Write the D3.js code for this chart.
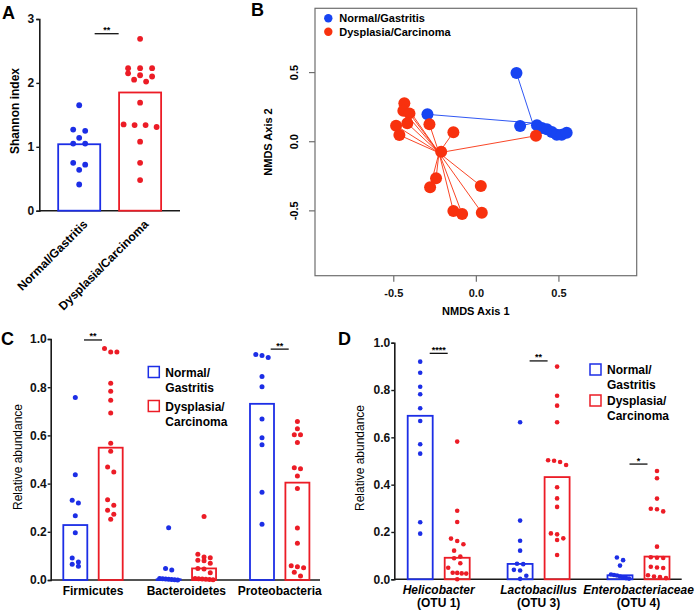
<!DOCTYPE html>
<html><head><meta charset="utf-8">
<script src="https://cdn.jsdelivr.net/npm/d3@7"></script>
<style>
body{margin:0;background:#fff;}
svg{display:block;font-family:"Liberation Sans",Arial,Helvetica,sans-serif;}
</style></head><body>
<svg id="chart" width="696" height="613"></svg>
<script>
// ---------------- DATA ----------------
const groups = ["Normal/Gastritis", "Dysplasia/Carcinoma"];
const legendLines = [["Normal/", "Gastritis"], ["Dysplasia/", "Carcinoma"]];

// Panel A: Shannon index
const shannonNormal = [1.65, 1.27, 1.25, 1.14, 1.05, 1.05, 0.75, 0.72, 0.64, 0.41];
const shannonDysplasia = [2.69, 2.23, 2.23, 2.23, 2.15, 2.12, 2.10, 2.05, 2.02, 1.69, 1.35, 1.34, 1.34, 1.31, 1.08, 0.75, 0.48];
const shannonMedian = [1.04, 1.85];
const shannonTicks = [0, 1, 2, 3];
const shannonSig = ["**", 2.77];

// Panel B: NMDS
const nmdsNormal = [[0.246, 0.497], [-0.293, 0.198], [0.268, 0.113], [0.37, 0.12], [0.40, 0.10],
  [0.43, 0.09], [0.46, 0.07], [0.49, 0.05], [0.52, 0.05], [0.55, 0.065]];
const nmdsDysplasia = [[-0.433, 0.278], [-0.439, 0.224], [-0.402, 0.205], [-0.483, 0.116], [-0.415, 0.133],
  [-0.463, 0.048], [-0.281, 0.126], [-0.136, 0.068], [-0.21, -0.072], [0.364, 0.043], [-0.241, -0.265],
  [-0.277, -0.33], [0.03, -0.32], [-0.136, -0.501], [-0.083, -0.523], [0.036, -0.513]];
const nmdsTicks = [-0.5, 0, 0.5];

// Panel C: phyla
const phyla = ["Firmicutes", "Bacteroidetes", "Proteobacteria"];
const phylaNormal = [
  [0.757, 0.437, 0.331, 0.319, 0.267, 0.196, 0.091, 0.075, 0.065, 0.057],
  [0.217, 0.048, 0.041, 0.006, 0.005, 0.004, 0.003, 0.002, 0.001, 0.0],
  [0.936, 0.932, 0.923, 0.844, 0.802, 0.668, 0.59, 0.561, 0.364, 0.231]];
const phylaDysplasia = [
  [0.961, 0.946, 0.946, 0.816, 0.783, 0.746, 0.693, 0.567, 0.534, 0.469, 0.448, 0.333, 0.31, 0.289, 0.273, 0.252],
  [0.263, 0.107, 0.095, 0.092, 0.082, 0.08, 0.07, 0.048, 0.046, 0.03, 0.006, 0.005, 0.004, 0.003, 0.002, 0.001],
  [0.658, 0.628, 0.603, 0.603, 0.571, 0.466, 0.462, 0.432, 0.38, 0.216, 0.152, 0.059, 0.055, 0.051, 0.032, 0.017]];
const phylaMedianNormal = [0.228, 0.003, 0.731];
const phylaMedianDysplasia = [0.549, 0.048, 0.404];
const phylaSig = [["**", 0.996], null, ["**", 0.958]];

// Panel D: OTUs
const otuGenus = ["Helicobacter", "Lactobacillus", "Enterobacteriaceae"];
const otuIds = ["(OTU 1)", "(OTU 3)", "(OTU 4)"];
const otuNormal = [
  [0.92, 0.873, 0.814, 0.782, 0.723, 0.669, 0.571, 0.531, 0.241, 0.193],
  [0.664, 0.248, 0.163, 0.121, 0.066, 0.064, 0.04, 0.037, 0.015, 0.002],
  [0.092, 0.081, 0.058, 0.02, 0.018, 0.016, 0.012, 0.008, 0.005, 0.003]];
const otuDysplasia = [
  [0.582, 0.29, 0.242, 0.172, 0.162, 0.148, 0.121, 0.096, 0.089, 0.068, 0.049, 0.028, 0.027, 0.025, 0.024, 0.0],
  [0.899, 0.776, 0.734, 0.664, 0.503, 0.501, 0.496, 0.483, 0.389, 0.342, 0.306, 0.194, 0.19, 0.173, 0.166, 0.103],
  [0.458, 0.427, 0.341, 0.298, 0.296, 0.287, 0.138, 0.093, 0.091, 0.09, 0.053, 0.05, 0.048, 0.017, 0.012, 0.009, 0.005]];
const otuMedianNormal = [0.691, 0.065, 0.017];
const otuMedianDysplasia = [0.091, 0.432, 0.096];
const otuSig = [["****", 0.955], ["**", 0.923], ["*", 0.487]];

const abundanceTicks = [0, 0.2, 0.4, 0.6, 0.8, 1.0];

// ---------------- STYLE ----------------
const BLUE = "#1c2ee6", RED = "#ec1c26";
const BLUE_B = "#1844f2", RED_B = "#f8310e";
const AXIS = "#1a1a1a";

const svg = d3.select("#chart");
svg.append("rect").attr("width", 696).attr("height", 613).attr("fill", "#fff");

function swarm(values, y, spacing, maxWidth, thresh) {
  const pts = values.map(v => ({ v, y: y(v) })).sort((a, b) => a.y - b.y);
  const rows = [];
  pts.forEach(p => {
    const last = rows[rows.length - 1];
    if (last && p.y - last[0].y < thresh) last.push(p); else rows.push([p]);
  });
  rows.forEach(r => {
    const n = r.length;
    const s = n > 1 ? Math.min(spacing, maxWidth / (n - 1)) : 0;
    r.forEach((p, i) => p.dx = (i - (n - 1) / 2) * s);
  });
  return pts;
}

function panelLetter(t, x, y) {
  svg.append("text").attr("x", x).attr("y", y).text(t)
    .attr("font-size", 18).attr("font-weight", "bold").attr("fill", "#000");
}

function styleAxis(g, fs) {
  g.select(".domain").attr("stroke", AXIS).attr("stroke-width", 1.6);
  g.selectAll(".tick line").attr("stroke", AXIS).attr("stroke-width", 1.4);
  g.selectAll(".tick text").attr("font-size", fs).attr("font-weight", "bold").attr("fill", "#111")
    .attr("font-family", "'Liberation Sans',Arial,sans-serif");
}

function sig(g, label, cx, y, half) {
  g.append("line").attr("x1", cx - half).attr("x2", cx + half).attr("y1", y).attr("y2", y)
    .attr("stroke", "#111").attr("stroke-width", 1.3);
  g.append("text").attr("x", cx).attr("y", y - 0.5).attr("text-anchor", "middle")
    .attr("font-size", 9).attr("font-weight", "bold").text(label);
}

// ---------------- PANEL A ----------------
{
  const g = svg.append("g");
  const y = d3.scaleLinear().domain([0, 3]).range([210.7, 19]);
  const x = d3.scaleBand().domain(groups).range([39.3, 180]).paddingInner(0.31).paddingOuter(0.31);
  const cols = [BLUE, RED];
  const series = [shannonNormal, shannonDysplasia];

  g.append("line").attr("x1", 39.3).attr("x2", 180).attr("y1", 210.7).attr("y2", 210.7)
    .attr("stroke", AXIS).attr("stroke-width", 1.6);
  const ax = g.append("g").attr("transform", "translate(39.3,0)")
    .call(d3.axisLeft(y).tickValues(shannonTicks).tickSize(3).tickPadding(2).tickFormat(d3.format("d")));
  styleAxis(ax, 12);

  groups.forEach((grp, i) => {
    g.append("rect").attr("x", x(grp)).attr("width", x.bandwidth())
      .attr("y", y(shannonMedian[i])).attr("height", y(0) - y(shannonMedian[i]))
      .attr("fill", "none").attr("stroke", cols[i]).attr("stroke-width", 1.8);
    const cx = x(grp) + x.bandwidth() / 2;
    g.selectAll(null).data(swarm(series[i], y, 12, 33, 5)).join("circle")
      .attr("cx", d => cx + d.dx).attr("cy", d => d.y).attr("r", 2.9).attr("fill", cols[i]);
    g.append("text").attr("transform", `translate(${cx + 3},219) rotate(-45)`)
      .attr("text-anchor", "end").attr("dy", "0.72em")
      .attr("font-size", 12).attr("font-weight", "bold").text(grp);
  });
  const mid = (x(groups[0]) + x(groups[1]) + x.bandwidth()) / 2;
  sig(g, shannonSig[0], mid - 3, y(shannonSig[1]), 12);

  g.append("text").attr("transform", "translate(19,111) rotate(-90)").attr("text-anchor", "middle")
    .attr("font-size", 12).attr("font-weight", "bold").text("Shannon index");
  panelLetter("A", 2, 19);
}

// ---------------- PANEL B ----------------
{
  const g = svg.append("g");
  const x = d3.scaleLinear().domain([-0.974, 0.974]).range([315, 636.7]);
  const y = d3.scaleLinear().domain([-0.969, 0.965]).range([275.7, 8.3]);
  const FR = "#6e6e6e";
  g.append("rect").attr("x", 315).attr("y", 8.3).attr("width", 636.7 - 315).attr("height", 275.7 - 8.3)
    .attr("fill", "none").attr("stroke", FR).attr("stroke-width", 1.2);

  const ax = g.append("g").attr("transform", "translate(0,275.7)")
    .call(d3.axisBottom(x).tickValues(nmdsTicks).tickSize(6).tickPadding(8).tickFormat(d => d.toFixed(1)));
  ax.select(".domain").remove();
  ax.selectAll(".tick line").attr("stroke", FR).attr("stroke-width", 1.2);
  ax.selectAll(".tick text").attr("font-size", 11).attr("font-weight", "bold").attr("fill", "#111")
    .attr("font-family", "'Liberation Sans',Arial,sans-serif");

  g.selectAll("line.yt").data(nmdsTicks).join("line").attr("class", "yt")
    .attr("x1", 309).attr("x2", 315).attr("y1", d => y(d)).attr("y2", d => y(d))
    .attr("stroke", FR).attr("stroke-width", 1.2);
  g.selectAll("text.yl").data(nmdsTicks).join("text").attr("class", "yl")
    .attr("transform", d => `translate(298,${y(d)}) rotate(-90)`).attr("text-anchor", "middle")
    .attr("font-size", 11).attr("font-weight", "bold").text(d => d.toFixed(1));

  g.append("text").attr("x", 475.8).attr("y", 315).attr("text-anchor", "middle")
    .attr("font-size", 11).attr("font-weight", "bold").text("NMDS Axis 1");
  g.append("text").attr("transform", "translate(272,142) rotate(-90)").attr("text-anchor", "middle")
    .attr("font-size", 11).attr("font-weight", "bold").text("NMDS Axis 2");

  const sets = [[nmdsNormal, BLUE_B], [nmdsDysplasia, RED_B]];
  sets.forEach(([pts, col]) => {
    const c = [d3.mean(pts, d => d[0]), d3.mean(pts, d => d[1])];
    g.selectAll(null).data(pts).join("line")
      .attr("x1", d => x(d[0])).attr("y1", d => y(d[1])).attr("x2", x(c[0])).attr("y2", y(c[1]))
      .attr("stroke", col).attr("stroke-width", 0.9);
  });
  sets.forEach(([pts, col]) => {
    g.selectAll(null).data(pts).join("circle")
      .attr("cx", d => x(d[0])).attr("cy", d => y(d[1])).attr("r", 6).attr("fill", col);
  });

  groups.forEach((grp, i) => {
    g.append("circle").attr("cx", 328.3).attr("cy", 18.3 + i * 13.4).attr("r", 4.2).attr("fill", sets[i][1]);
    g.append("text").attr("x", 339.3).attr("y", 22.3 + i * 13.4).attr("font-size", 11)
      .attr("font-weight", "bold").text(grp);
  });
  panelLetter("B", 251, 16);
}

// ---------------- helper for C & D ----------------
function groupedPanel(opts) {
  const g = svg.append("g");
  const y = d3.scaleLinear().domain([0, 1]).range([opts.y0, opts.y1]);
  const x = d3.scalePoint().domain(opts.cats).range(opts.xr);
  const sub = d3.scaleBand().domain(groups).range([-opts.half, opts.half]);
  const cols = [BLUE, RED];

  g.append("line").attr("x1", opts.axX).attr("x2", opts.axEnd).attr("y1", opts.y0).attr("y2", opts.y0)
    .attr("stroke", AXIS).attr("stroke-width", 1.6);
  const ax = g.append("g").attr("transform", `translate(${opts.axX},0)`)
    .call(d3.axisLeft(y).tickValues(abundanceTicks).tickSize(3).tickPadding(1).tickFormat(d3.format(".1f")));
  styleAxis(ax, 12);

  opts.cats.forEach((cat, ci) => {
    [opts.normal, opts.dys].forEach((ser, gi) => {
      const cx = x(cat) + sub(groups[gi]) + sub.bandwidth() / 2;
      const med = opts.medians[gi][ci];
      g.append("rect").attr("x", cx - opts.barW / 2).attr("width", opts.barW)
        .attr("y", y(med)).attr("height", y(0) - y(med))
        .attr("fill", "none").attr("stroke", cols[gi]).attr("stroke-width", 1.8);
      g.selectAll(null).data(swarm(ser[ci], y, 6.2, 18, 6)).join("circle")
        .attr("cx", d => cx + d.dx).attr("cy", d => d.y).attr("r", opts.r).attr("fill", cols[gi]);
    });
    const s = opts.sig[ci];
    if (s) sig(g, s[0], x(cat), y(s[1]), 9);
  });

  g.append("text").attr("transform", `translate(${opts.titleX},${opts.titleY}) rotate(-90)`)
    .attr("text-anchor", "middle").attr("font-size", 12).text("Relative abundance");

  // legend
  groups.forEach((grp, i) => {
    const ly = opts.legY + i * opts.legStep;
    g.append("rect").attr("x", opts.legX).attr("y", ly).attr("width", 11).attr("height", 11)
      .attr("fill", "none").attr("stroke", cols[i]).attr("stroke-width", 1.5);
    legendLines[i].forEach((t, k) => {
      g.append("text").attr("x", opts.legX + 17).attr("y", ly + 10 + k * 15)
        .attr("font-size", 12).attr("font-weight", "bold").text(t);
    });
  });
  return { g, x };
}

// ---------------- PANEL C ----------------
{
  const { g, x } = groupedPanel({
    cats: phyla, normal: phylaNormal, dys: phylaDysplasia,
    medians: [phylaMedianNormal, phylaMedianDysplasia], sig: phylaSig,
    y0: 580, y1: 339, xr: [93, 279.7], half: 35.4, barW: 24, r: 2.5,
    axX: 50.7, axEnd: 320, titleX: 22, titleY: 457,
    legX: 148.3, legY: 366.5, legStep: 34
  });
  g.selectAll("text.cat").data(phyla).join("text").attr("class", "cat")
    .attr("x", d => x(d)).attr("y", 595).attr("text-anchor", "middle")
    .attr("font-size", 12).attr("font-weight", "bold").text(d => d);
  panelLetter("C", 1, 345);
}

// ---------------- PANEL D ----------------
{
  const { g, x } = groupedPanel({
    cats: otuGenus, normal: otuNormal, dys: otuDysplasia,
    medians: [otuMedianNormal, otuMedianDysplasia], sig: otuSig,
    y0: 579.3, y1: 342.7, xr: [438.7, 638.5], half: 37, barW: 25, r: 2.3,
    axX: 394.3, axEnd: 681.7, titleX: 364, titleY: 458,
    legX: 590, legY: 364, legStep: 31
  });
  g.selectAll("text.gen").data(otuGenus).join("text").attr("class", "gen")
    .attr("x", d => x(d)).attr("y", 594).attr("text-anchor", "middle")
    .attr("font-size", 12).attr("font-weight", "bold").attr("font-style", "italic").text(d => d);
  g.selectAll("text.otu").data(otuGenus).join("text").attr("class", "otu")
    .attr("x", d => x(d)).attr("y", 607).attr("text-anchor", "middle")
    .attr("font-size", 12).attr("font-weight", "bold").text((d, i) => otuIds[i]);
  panelLetter("D", 338, 345);
}
</script>
</body></html>
